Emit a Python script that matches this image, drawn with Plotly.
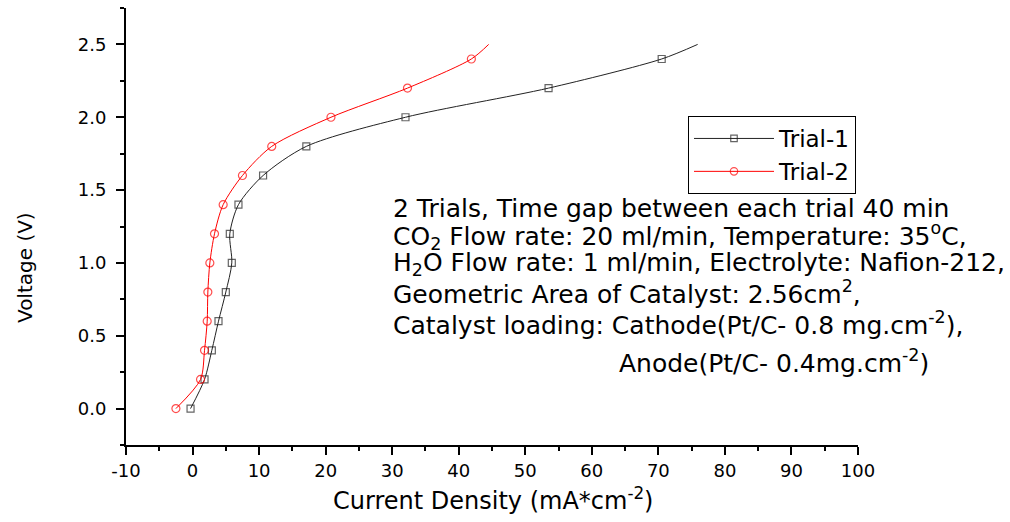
import plotly.graph_objects as go

# ---- data ----
voltage = [0.0, 0.2, 0.4, 0.6, 0.8, 1.0, 1.2, 1.4, 1.6, 1.8, 2.0, 2.2, 2.4, 2.5]
trial1_current = [-0.3, 1.8, 2.9, 3.9, 5.0, 5.9, 5.6, 6.9, 10.6, 17.1, 32.0, 53.5, 70.5, 75.9]
trial2_current = [-2.5, 1.2, 1.8, 2.2, 2.3, 2.6, 3.3, 4.6, 7.5, 11.9, 20.8, 32.3, 41.9, 44.5]
# last point of each series is the curve end (no symbol drawn)
has_marker = [1, 1, 1, 1, 1, 1, 1, 1, 1, 1, 1, 1, 1, 0]

series_names = ["Trial-1", "Trial-2"]
x_ticks = [-10, 0, 10, 20, 30, 40, 50, 60, 70, 80, 90, 100]
y_ticks = [0.0, 0.5, 1.0, 1.5, 2.0, 2.5]

info_lines = [
    "2 Trials, Time gap between each trial 40 min",
    "CO<sub>2</sub> Flow rate: 20 ml/min, Temperature: 35<sup>o</sup>C,",
    "H<sub>2</sub>O Flow rate: 1 ml/min, Electrolyte: Nafion-212,",
    "Geometric Area of Catalyst: 2.56cm<sup>2</sup>,",
    "Catalyst loading: Cathode(Pt/C- 0.8 mg.cm<sup>-2</sup>),",
    "Anode(Pt/C- 0.4mg.cm<sup>-2</sup>)",
]

FONT = "DejaVu Sans"
W, H = 1010, 522
ML, MR, MT, MB = 126, 152, 8, 77
PW, PH = W - ML - MR, H - MT - MB


def px_x(p):
    return (p - ML) / PW


def px_y(p):
    return (H - MB - p) / PH


fig = go.Figure()
fig.add_trace(go.Scatter(
    x=trial1_current, y=voltage, name=series_names[0],
    mode="lines+markers",
    line=dict(color="#222222", width=1, shape="spline", smoothing=0.8),
    marker=dict(symbol="square-open", size=[7 * m for m in has_marker],
                color="#222222", line=dict(width=1.2)),
))
fig.add_trace(go.Scatter(
    x=trial2_current, y=voltage, name=series_names[1],
    mode="lines+markers",
    line=dict(color="#ff0000", width=1, shape="spline", smoothing=0.8),
    marker=dict(symbol="circle-open", size=[8 * m for m in has_marker],
                color="#ff0000", line=dict(width=1.2)),
))

annotations = []
line_y = [208, 236, 264, 292, 323, 361]
line_x = [391, 391, 391, 391, 391, 617]
for txt, yy, xx in zip(info_lines, line_y, line_x):
    annotations.append(dict(
        text=txt, xref="paper", yref="paper", x=px_x(xx), y=px_y(yy),
        xanchor="left", yanchor="middle", showarrow=False,
        font=dict(family=FONT, size=25, color="black"),
    ))

# axis titles
annotations.append(dict(
    text="Current Density (mA*cm<sup>-2</sup>)", xref="paper", yref="paper",
    x=px_x(493), y=px_y(499), xanchor="center", yanchor="middle",
    showarrow=False, font=dict(family=FONT, size=24, color="black"),
))
annotations.append(dict(
    text="Voltage (V)", xref="paper", yref="paper",
    x=px_x(25), y=px_y(268), xanchor="center", yanchor="middle",
    textangle=-90, showarrow=False, font=dict(family=FONT, size=20, color="black"),
))

fig.update_layout(
    width=W, height=H,
    margin=dict(l=ML, r=MR, t=MT, b=MB),
    paper_bgcolor="white", plot_bgcolor="white",
    font=dict(family=FONT, color="black"),
    showlegend=True,
    legend=dict(
        x=px_x(688), y=px_y(116), xanchor="left", yanchor="top",
        bordercolor="black", borderwidth=1, bgcolor="white",
        font=dict(family=FONT, size=23, color="black"),
        itemwidth=80, tracegroupgap=0,
    ),
    annotations=annotations,
)

fig.update_xaxes(
    range=[-10, 100], tickmode="array", tickvals=x_ticks,
    ticktext=[str(v) for v in x_ticks],
    showline=True, linecolor="black", linewidth=2, mirror=False,
    ticks="outside", ticklen=8, tickwidth=2, tickcolor="black",
    tickfont=dict(family=FONT, size=18, color="black"),
    showgrid=False, zeroline=False,
    minor=dict(dtick=5, tick0=0, ticks="outside", ticklen=4, tickwidth=2,
               tickcolor="black", showgrid=False),
)
fig.update_yaxes(
    range=[-0.25, 2.75], tickmode="array", tickvals=y_ticks,
    ticktext=[f"{v:.1f}" for v in y_ticks],
    showline=True, linecolor="black", linewidth=2, mirror=False,
    ticks="outside", ticklen=8, tickwidth=2, tickcolor="black",
    tickfont=dict(family=FONT, size=18, color="black"),
    ticklabelstandoff=6,
    showgrid=False, zeroline=False,
    minor=dict(dtick=0.25, tick0=0, ticks="outside", ticklen=4, tickwidth=2,
               tickcolor="black", showgrid=False),
)

fig.write_html("out.html")
